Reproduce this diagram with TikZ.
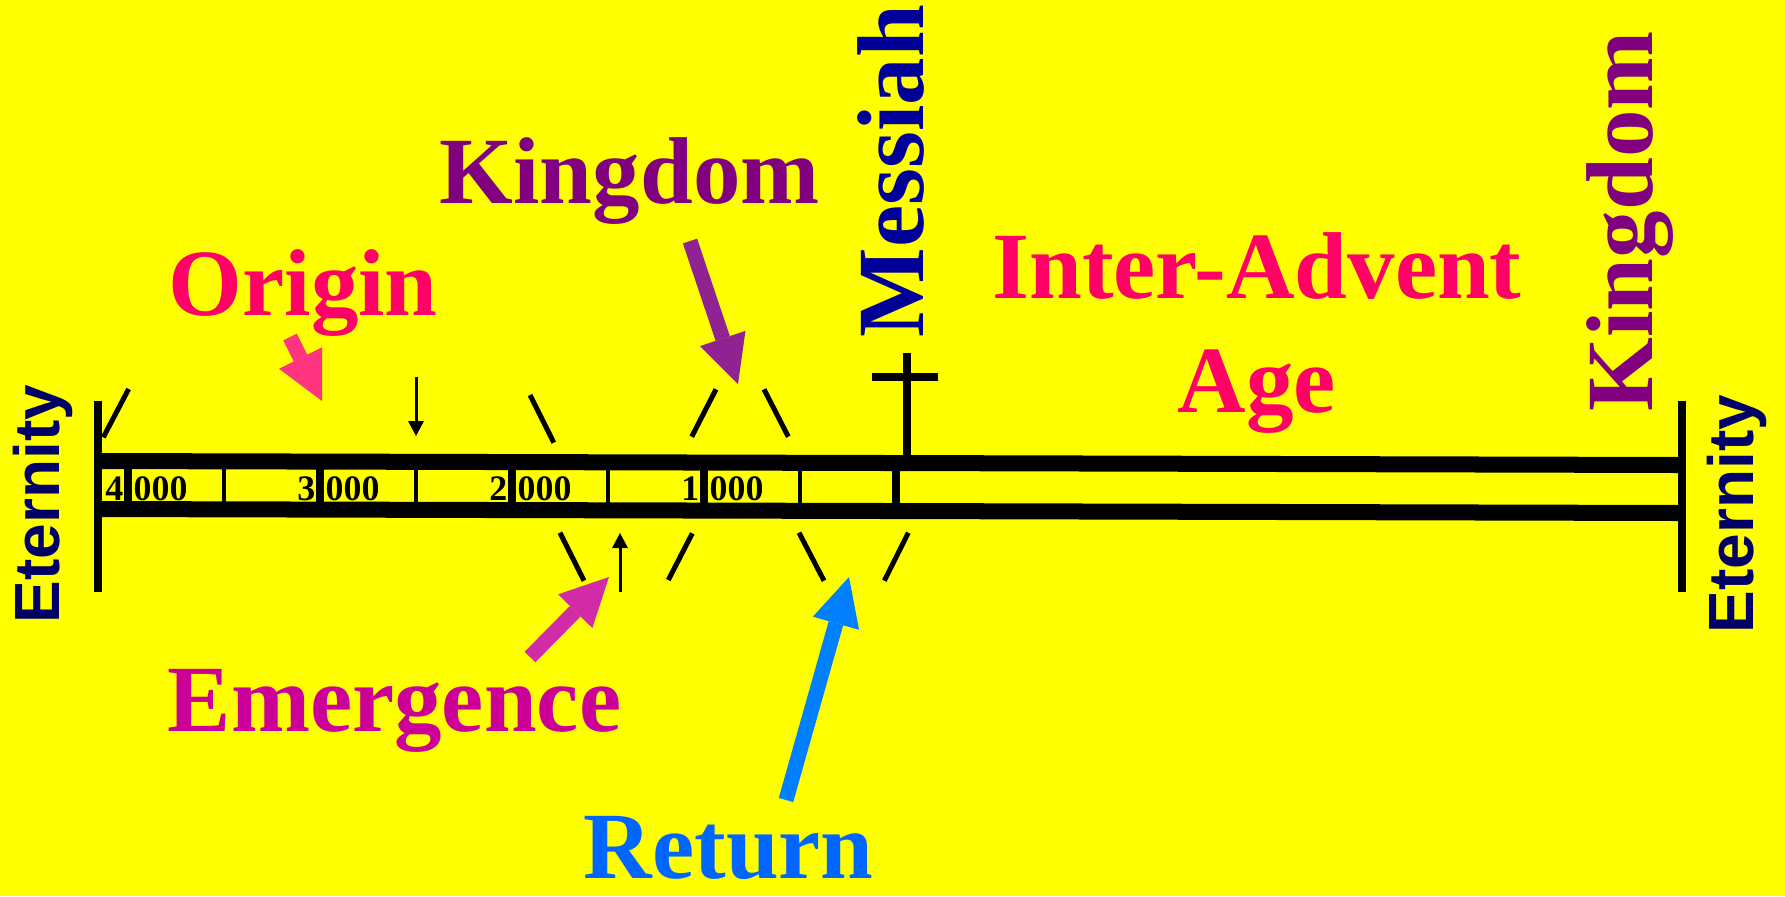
\documentclass[tikz,border=0pt]{standalone}
\usepackage{fontspec}
\setmainfont{Liberation Serif}
\setsansfont{Liberation Sans}
\usetikzlibrary{arrows.meta}
\definecolor{bgyellow}{HTML}{FFFF00}
\definecolor{kingpurple}{HTML}{800080}
\definecolor{originred}{HTML}{FF0066}
\definecolor{emergmag}{HTML}{CC0099}
\definecolor{returnblue}{HTML}{0066FF}
\definecolor{messblue}{HTML}{000099}
\definecolor{eternblue}{HTML}{000066}
\definecolor{origarrow}{HTML}{FF3380}
\definecolor{kingarrow}{HTML}{912291}
\definecolor{emergarrow}{HTML}{D22BA8}
\definecolor{retarrow}{HTML}{0080FF}

\begin{document}
\begin{tikzpicture}[
  x=0.01cm, y=-0.01cm,
  big/.style={font=\fontsize{27}{32}\selectfont\bfseries,inner sep=0pt},
  etern/.style={font=\fontsize{18.2}{21}\selectfont\sffamily\bfseries,text=eternblue,
    inner sep=0pt,rotate=90,anchor=base west},
  num/.style={font=\fontsize{10.2}{12}\selectfont\bfseries,inner sep=0pt},
  rail/.style={line width=0.16cm},
  endbar/.style={line width=0.075cm},
  tick/.style={line width=0.05cm},
  divthick/.style={line width=0.08cm},
  divthin/.style={line width=0.045cm},
  fat/.style={line width=0.15cm,-{Triangle[length=0.48cm,width=0.48cm,line width=0pt]}},
  smallarr/.style={line width=0.03cm,-{Triangle[length=0.15cm,width=0.16cm,line width=0pt]}},
]
% background
\fill[bgyellow] (0,0) rectangle (1785,896);
\useasboundingbox (0,0) rectangle (1785,896);
% time line
\draw[rail] (98,461) -- (1682,465);
\draw[rail] (98,509) -- (1682,513);
\draw[endbar] (98,401) -- (98,592);
\draw[endbar] (1682,401) -- (1682,592);
% millennium cells
\foreach \k/\d in {0/4,1/3,2/2,3/1}{
  \pgfmathsetmacro{\xx}{128+192*\k}
  \draw[divthick] (\xx,462) -- (\xx,510);
  \draw[divthin] (\xx+96,462) -- (\xx+96,510);
  \node[num,anchor=base east] (d\k) at (\xx-4,500) {\d};
  \node[num,anchor=base west] (z\k) at (\xx+5,500) {000};
}
\draw[divthick] (896,463) -- (896,511);
% slashes above and below
\foreach \xa/\ya/\xb/\yb in {128.6/389/103.3/437.3, 530/395/553.8/442.7,
    716/389.3/691.7/436.7, 764/389.3/788.3/436.7,
    560/532.7/584/580.7, 692.3/533.3/668.3/580,
    799/532.7/824/580.7, 908.3/532.7/884.3/580.7}
  \draw[tick] (\xa,\ya) -- (\xb,\yb);
% cross
\coordinate (crossTop) at (907,353);
\coordinate (crossFoot) at (907,458);
\draw[divthick] (crossTop) -- (crossFoot);
\draw[divthick] (872,377) -- (938,377);
% small arrows
\coordinate (dnA) at (416,377);
\coordinate (dnB) at (416,436);
\coordinate (upA) at (620,592);
\coordinate (upB) at (620,533);
\draw[smallarr] (dnA) -- (dnB);
\draw[smallarr] (upA) -- (upB);
% labels
\node[big,text=kingpurple,anchor=base west] (kingTop) at (439,203) {Kingdom};
\node[big,text=originred,anchor=base west] (origin) at (168,315) {Origin};
\node[big,text=originred,anchor=base] (inter) at (1257,298) {Inter-Advent};
\node[big,text=originred,anchor=base] (age) at (1257,412) {Age};
\node[big,text=emergmag,anchor=base west] (emerg) at (167,731) {Emergence};
\node[big,text=returnblue,anchor=base west] (ret) at (583,878) {Return};
\node[big,text=messblue,rotate=90,anchor=base west] (messiah) at (923,338) {Messiah};
\node[big,text=kingpurple,rotate=90,anchor=base west] (kingSide) at (1652,412) {Kingdom};
\node[etern] (eterL) at (59,624) {Eternity};
\node[etern] (eterR) at (1753,634) {Eternity};
% block arrows
\coordinate (origTail) at (290,337);
\coordinate (origTip) at (322,401);
\coordinate (kingTail) at (690,241);
\coordinate (kingTip) at (738,384);
\coordinate (emergTail) at (530,657);
\coordinate (emergTip) at (609,577);
\coordinate (retTail) at (786,800);
\coordinate (retTip) at (849,577);
\draw[fat,origarrow] (origTail) -- (origTip);
\draw[fat,kingarrow] (kingTail) -- (kingTip);
\draw[fat,emergarrow] (emergTail) -- (emergTip);
\draw[fat,retarrow] (retTail) -- (retTip);
\end{tikzpicture}
\end{document}
